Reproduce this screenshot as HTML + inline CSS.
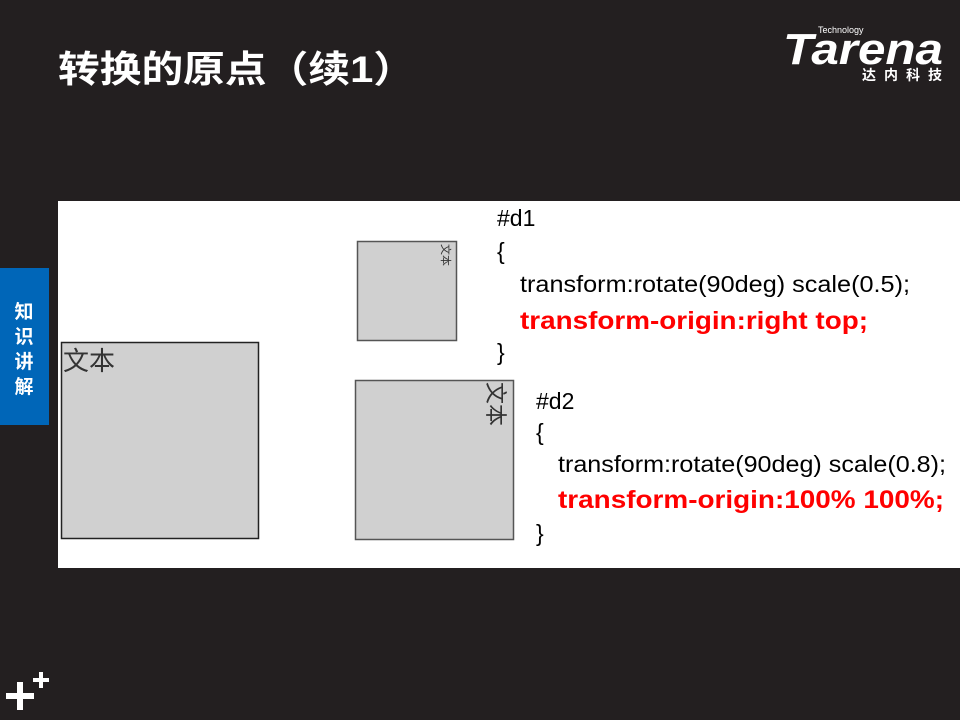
<!DOCTYPE html>
<html><head><meta charset="utf-8"><style>
html,body{margin:0;padding:0;background:#231f20;}
svg{display:block}
</style></head><body>
<svg width="960" height="720" xmlns="http://www.w3.org/2000/svg">
<rect width="960" height="720" fill="#231f20"/>
<text x="58" y="82" font-family="Liberation Sans, Noto Sans CJK SC, sans-serif" font-weight="bold" font-size="37" fill="#fff" textLength="357" lengthAdjust="spacingAndGlyphs">转换的原点（续1）</text>
<text x="783" y="64" font-family="Liberation Sans, sans-serif" font-weight="bold" font-style="italic" font-size="44" fill="#fff" textLength="160" lengthAdjust="spacingAndGlyphs">Tarena</text>
<text x="818" y="33" font-family="Liberation Sans, sans-serif" font-size="9" fill="#fff">Technology</text>
<text x="862" y="80" font-family="Liberation Sans, Noto Sans CJK SC, sans-serif" font-weight="bold" font-size="14" fill="#fff" textLength="80" lengthAdjust="spacing">达内科技</text>
<rect x="0" y="268" width="49" height="157" fill="#0066b8"/>
<g font-family="Noto Sans CJK SC, sans-serif" font-weight="bold" font-size="19" fill="#fff" text-anchor="middle">
<text x="24" y="318">知</text><text x="24" y="343">识</text><text x="24" y="368">讲</text><text x="24" y="393">解</text>
</g>
<rect x="58" y="201" width="902" height="367" fill="#fff"/>
<rect x="61.5" y="342.5" width="197" height="196" fill="#d0d0d0" stroke="#222" stroke-width="1.5"/>
<text x="63" y="370" font-family="Noto Sans CJK SC, sans-serif" font-size="26" fill="#333">文本</text>
<rect x="357.5" y="241.5" width="99" height="99" fill="#d0d0d0" stroke="#555" stroke-width="1.5"/>
<text x="0" y="0" transform="translate(442,244) rotate(90)" font-family="Noto Sans CJK SC, sans-serif" font-size="11" fill="#333">文本</text>
<rect x="355.5" y="380.5" width="158" height="159" fill="#d0d0d0" stroke="#555" stroke-width="1.5"/>
<text x="0" y="0" transform="translate(488,382) rotate(90)" font-family="Noto Sans CJK SC, sans-serif" font-size="22" fill="#333">文本</text>
<g font-family="Liberation Sans, sans-serif" font-size="23" fill="#000">
<text x="497" y="226">#d1</text>
<text x="497" y="259">{</text>
<text x="520" y="292" textLength="390" lengthAdjust="spacingAndGlyphs">transform:rotate(90deg) scale(0.5);</text>
<text x="520" y="329" fill="#f00" font-weight="bold" font-size="25" textLength="348" lengthAdjust="spacingAndGlyphs">transform-origin:right top;</text>
<text x="497" y="360">}</text>
<text x="536" y="409">#d2</text>
<text x="536" y="440">{</text>
<text x="558" y="472" textLength="388" lengthAdjust="spacingAndGlyphs">transform:rotate(90deg) scale(0.8);</text>
<text x="558" y="508" fill="#f00" font-weight="bold" font-size="25" textLength="386" lengthAdjust="spacingAndGlyphs">transform-origin:100% 100%;</text>
<text x="536" y="541">}</text>
</g>
<g fill="#fff">
<rect x="6" y="693" width="28" height="6"/><rect x="17" y="682" width="6" height="28"/>
<rect x="33" y="678" width="16" height="4"/><rect x="39" y="672" width="4" height="16"/>
</g>
</svg>
</body></html>
